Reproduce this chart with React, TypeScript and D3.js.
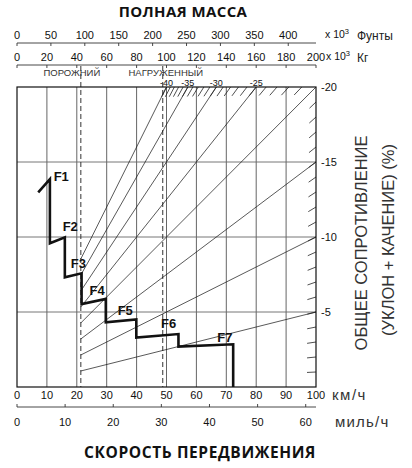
import React from "react";
import * as d3 from "d3";

// ---- data ----
const speedTicks = [0, 10, 20, 30, 40, 50, 60, 70, 80, 90, 100];
const mphTicks = [0, 10, 20, 30, 40, 50, 60];
const kgTicks = [0, 20, 40, 60, 80, 100, 120, 140, 160, 180, 200];
const lbTicks = [0, 50, 100, 150, 200, 250, 300, 350, 400];
const resistTicks = [5, 10, 15, 20];
const gradeLines = [5, 10, 15, 20, 25, 30, 35, 40];
const gradeTopLabels = [25, 30, 35, 40];
const emptyWeight = 42.7; // x10^3 kg
const loadedWeight = 97.5; // x10^3 kg
const rimpullSpeed = [7.1, 11.0, 11.0, 16.0, 16.0, 21.6, 21.6, 29.7, 29.7, 39.9, 39.9, 54.0, 54.0, 72.3, 72.3];
const rimpullValue = [12.98, 13.85, 9.58, 9.98, 7.31, 7.58, 5.53, 5.87, 4.31, 4.51, 3.29, 3.53, 2.69, 2.85, 0];
const gearNames = ["F1", "F2", "F3", "F4", "F5", "F6", "F7"];
const gearSpeed = [14.8, 17.8, 20.5, 26.8, 36.2, 50.7, 69.5];
const gearValue = [14.03, 10.7, 8.27, 6.47, 5.1, 4.23, 3.3];

const LB_PER_KG = 2.20462;
const KMH_PER_MPH = 1.609344;

export default function App() {
  const L = 17, R = 316, T = 87, B = 387;
  const x = d3.scaleLinear().domain([0, 100]).range([L, R]);
  const y = d3.scaleLinear().domain([0, 20]).range([B, T]);
  const wKg = d3.scaleLinear().domain([0, 200]).range([L, R]);
  const wLb = d3.scaleLinear().domain([0, 200 * LB_PER_KG]).range([L, R]);
  const mph = d3.scaleLinear().domain([0, 100 / KMH_PER_MPH]).range([L, R]);

  const sans = "'Liberation Sans', Arial, sans-serif";
  const bold = "'Open Sans', 'Liberation Sans', sans-serif";

  const stepLine = d3
    .line<number>()
    .x((_, i) => x(rimpullSpeed[i]))
    .y((_, i) => y(rimpullValue[i]))(rimpullSpeed) as string;

  // grade rays: resistance value v = g * W / 200 in the rimpull scale
  const rays = gradeLines.map((g) => {
    const w0 = emptyWeight;
    const v0 = (g * w0) / 200;
    const w1 = g <= 20 ? 200 : (200 * 20) / g;
    const v1 = g <= 20 ? g : 20;
    return { g, x1: wKg(w0), y1: y(v0), x2: wKg(w1), y2: y(v1) };
  });

  const hatchTop = d3.range(21, 41).map((g) => {
    const px = wKg((200 * 20) / g);
    const py = y(20);
    const dx = wKg(0) - px, dy = y(0) - py;
    const len = Math.hypot(dx, dy);
    return { px, py, ex: px + (dx / len) * 11, ey: py + (dy / len) * 11 };
  });
  const hatchRight = d3.range(1, 20).map((g) => {
    const px = wKg(200);
    const py = y(g);
    const dx = wKg(0) - px, dy = y(0) - py;
    const len = Math.hypot(dx, dy);
    return { px, py, ex: px + (dx / len) * 9, ey: py + (dy / len) * 9 };
  });

  return (
    <svg width={412} height={468} style={{ position: "absolute", left: 0, top: 0, background: "#fff" }}>
      <rect x={0} y={0} width={412} height={468} fill="#fff" />
      {/* titles */}
      <text x={183} y={17} textAnchor="middle" fontFamily={bold} fontWeight={700} fontSize={15} letterSpacing={0.4} fill="#111">
        ПОЛНАЯ МАССА
      </text>
      <text x={200} y={458} textAnchor="middle" fontFamily={bold} fontWeight={700} fontSize={15.5} letterSpacing={0.6} fill="#111">
        СКОРОСТЬ ПЕРЕДВИЖЕНИЯ
      </text>

      {/* pounds axis */}
      <line x1={L} x2={R} y1={43} y2={43} stroke="#333" strokeWidth={0.9} />
      {lbTicks.map((t) => (
        <g key={"lb" + t}>
          <line x1={wLb(t)} x2={wLb(t)} y1={43} y2={46} stroke="#333" strokeWidth={0.9} />
          <text x={wLb(t)} y={39} textAnchor="middle" fontFamily={sans} fontSize={11} fill="#111">
            {t}
          </text>
        </g>
      ))}
      <text x={325} y={38} fontFamily={sans} fontSize={10.5} fill="#111">
        x 10<tspan dy={-4} fontSize={7.5}>3</tspan>
      </text>
      <text x={357} y={40} fontFamily={sans} fontSize={12} fill="#222">
        Фунты
      </text>

      {/* kg axis */}
      <line x1={L} x2={R} y1={65} y2={65} stroke="#333" strokeWidth={0.9} />
      {kgTicks.map((t) => (
        <g key={"kg" + t}>
          <line x1={wKg(t)} x2={wKg(t)} y1={65} y2={68} stroke="#333" strokeWidth={0.9} />
          <text x={wKg(t)} y={61} textAnchor="middle" fontFamily={sans} fontSize={11} fill="#111">
            {t}
          </text>
        </g>
      ))}
      <text x={326} y={60} fontFamily={sans} fontSize={10.5} fill="#111">
        x 10<tspan dy={-4} fontSize={7.5}>3</tspan>
      </text>
      <text x={357} y={62} fontFamily={sans} fontSize={12} fill="#222">
        Кг
      </text>

      <text x={wKg(emptyWeight) - 9} y={76} textAnchor="middle" fontFamily={sans} fontSize={9.5} fill="#333">
        ПОРОЖНИЙ
      </text>
      <text x={wKg(loadedWeight) + 3} y={75.5} textAnchor="middle" fontFamily={sans} fontSize={9.5} fill="#333">
        НАГРУЖЕННЫЙ
      </text>
      {gradeTopLabels.map((g) => (
        <text key={"gl" + g} x={wKg((200 * 20) / g)} y={86} textAnchor="middle" fontFamily={sans} fontSize={9} fill="#111">
          {"-" + g}
        </text>
      ))}

      {/* grid */}
      {speedTicks.slice(1, -1).map((t) => (
        <line key={"vx" + t} x1={x(t)} x2={x(t)} y1={T} y2={B} stroke="#555" strokeWidth={0.9} />
      ))}
      {resistTicks.slice(0, -1).map((t) => (
        <line key={"hy" + t} x1={L} x2={R} y1={y(t)} y2={y(t)} stroke="#666" strokeWidth={0.9} />
      ))}

      {/* weight dashed lines */}
      {[emptyWeight, loadedWeight].map((w) => (
        <line key={"w" + w} x1={wKg(w)} x2={wKg(w)} y1={66} y2={B} stroke="#333" strokeWidth={1} strokeDasharray="5,3" />
      ))}

      {/* grade rays */}
      {rays.map((r) => (
        <line key={"ray" + r.g} x1={r.x1} y1={r.y1} x2={r.x2} y2={r.y2} stroke="#111" strokeWidth={0.7} />
      ))}
      {hatchTop.map((h, i) => (
        <line key={"ht" + i} x1={h.px} y1={h.py} x2={h.ex} y2={h.ey} stroke="#222" strokeWidth={0.8} />
      ))}
      {hatchRight.map((h, i) => (
        <line key={"hr" + i} x1={h.px} y1={h.py} x2={h.ex} y2={h.ey} stroke="#222" strokeWidth={0.8} />
      ))}

      {/* frame */}
      <rect x={L} y={T} width={R - L} height={B - T} fill="none" stroke="#111" strokeWidth={1.2} />

      {/* rimpull step curve */}
      <path d={stepLine} fill="none" stroke="#111" strokeWidth={2.6} strokeLinejoin="miter" />
      {gearNames.map((n, i) => (
        <text key={n} x={x(gearSpeed[i])} y={y(gearValue[i])} dy="0.36em" textAnchor="middle" fontFamily={sans} fontWeight={700} fontSize={13} fill="#111">
          {n}
        </text>
      ))}

      {/* right axis labels */}
      {resistTicks.map((t) => (
        <text key={"ry" + t} x={R + 5} y={y(t)} dy="0.36em" fontFamily={sans} fontSize={11} fill="#111">
          {"-" + t}
        </text>
      ))}
      <text transform="translate(367,243) rotate(-90)" textAnchor="middle" fontFamily={sans} fontSize={16.5} fill="#333">
        ОБЩЕЕ СОПРОТИВЛЕНИЕ
      </text>
      <text transform="translate(394,240) rotate(-90)" textAnchor="middle" fontFamily={sans} fontSize={16.5} fill="#333">
        (УКЛОН + КАЧЕНИЕ) (%)
      </text>

      {/* km/h axis */}
      {speedTicks.map((t) => (
        <text key={"sx" + t} x={x(t)} y={399} textAnchor="middle" fontFamily={sans} fontSize={11} fill="#111">
          {t}
        </text>
      ))}
      <text x={332} y={400} fontFamily={sans} fontSize={15} letterSpacing={1.5} fill="#333">
        км/ч
      </text>

      {/* mph axis */}
      <line x1={L} x2={R} y1={407} y2={407} stroke="#333" strokeWidth={0.9} />
      {mphTicks.map((t) => (
        <g key={"mph" + t}>
          <line x1={mph(t)} x2={mph(t)} y1={407} y2={404} stroke="#333" strokeWidth={0.9} />
          <text x={mph(t)} y={426} textAnchor="middle" fontFamily={sans} fontSize={11} fill="#111">
            {t}
          </text>
        </g>
      ))}
      <text x={335} y={427} fontFamily={sans} fontSize={15} letterSpacing={1.2} fill="#333">
        миль/ч
      </text>
    </svg>
  );
}
